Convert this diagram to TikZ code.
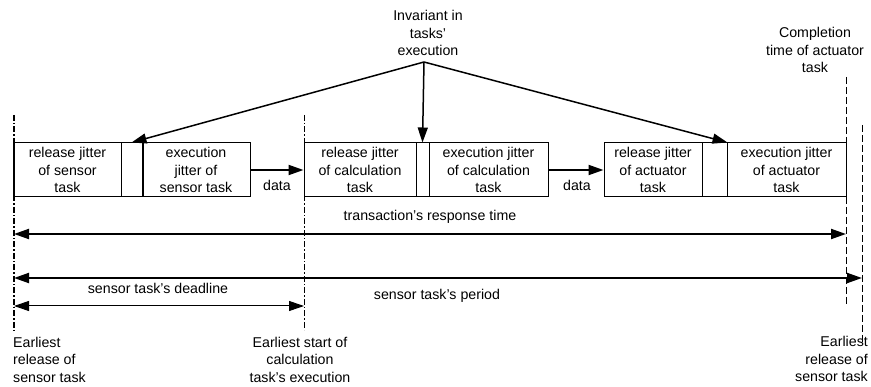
\documentclass[tikz,border=0pt]{standalone}
\usepackage{fontspec}
\setmainfont{Liberation Sans}
\usetikzlibrary{arrows.meta}

\begin{document}
\begin{tikzpicture}[x=1pt,y=-1pt,
  every node/.style={font=\fontsize{14.2}{17.5}\selectfont},
  cell/.style={draw,line width=1pt,inner sep=0pt,minimum height=54pt,align=center},
  lbl/.style={inner sep=0pt,align=center},
  tip/.style={-{Triangle[length=15pt,width=10pt]}},
  tips/.style={{Triangle[length=15pt,width=10pt]}-{Triangle[length=15pt,width=10pt]}},
  thinline/.style={line width=0.8pt},
  bold/.style={line width=2pt},
  dashdot/.style={dash pattern=on 6pt off 2pt on 1.5pt off 2pt},
  dashline/.style={dash pattern=on 7pt off 3pt,line width=0.8pt}]
\useasboundingbox (0,0) rectangle (871,387);

% sensor task
\node[cell,minimum width=107pt] (s1) at (67.5,170) {release jitter\\of sensor\\task};
\node[cell,minimum width=21pt]  (s2) at (131.5,170) {};
\node[cell,minimum width=108pt] (s3) at (196,170) {execution\\jitter of\\sensor task};
\draw[bold] (s2.north east) -- (s2.south east);
\draw[bold] (s1.north west) -- (s1.south west);

% calculation task
\node[cell,minimum width=112pt] (c1) at (360,170) {release jitter\\of calculation\\task};
\node[cell,minimum width=13pt]  (c2) at (422.5,170) {};
\node[cell,minimum width=119pt] (c3) at (488.5,170) {execution jitter\\of calculation\\task};

% actuator task
\node[cell,minimum width=98pt]  (a1) at (653,170) {release jitter\\of actuator\\task};
\node[cell,minimum width=25pt]  (a2) at (714.5,170) {};
\node[cell,minimum width=119pt] (a3) at (786.5,170) {execution jitter\\of actuator\\task};

% data flow between tasks
\draw[bold,tip] (s3.east) -- (c1.west);
\draw[bold,tip] (c3.east) -- (a1.west);
\node[lbl] (d1) at (277,185) {data};
\node[lbl] (d2) at (577,185) {data};

% invariant part of the executions
\node[lbl] (inv) at (428,33) {Invariant in\\tasks'\\execution};
\coordinate (apex) at (424,62);
\draw[line width=1.5pt,tip] (apex) -- (s2.north);
\draw[line width=1.5pt,tip] (apex) -- (c2.north);
\draw[line width=1.5pt,tip] (apex) -- (a2.north east);

% time markers
\coordinate (Lt) at (14,115);   \coordinate (Lb) at (14,333);
\coordinate (Ct) at (304,115);  \coordinate (Cb) at (304,330);
\coordinate (R1t) at (846,77);  \coordinate (R1b) at (846,305);
\coordinate (R2t) at (862,125); \coordinate (R2b) at (862,342);
\draw[bold,dashdot] (Lt) -- (Lb);
\draw[thinline,dashdot] (Ct) -- (Cb);
\draw[dashline] (R1t) -- (R1b);
\draw[dashline] (R2t) -- (R2b);

% intervals
\coordinate (tr0) at (14,234);  \coordinate (tr1) at (846,234);
\coordinate (pe0) at (14,278);  \coordinate (pe1) at (862,278);
\coordinate (dl0) at (14,306);  \coordinate (dl1) at (304,306);
\draw[bold,tips] (tr0) -- (tr1);
\draw[bold,tips] (pe0) -- (pe1);
\draw[line width=1pt,tips] (dl0) -- (dl1);
\node[lbl] (trl) at (430,217) {transaction's response time};
\node[lbl] (pel) at (437,296) {sensor task's period};
\node[lbl] (dll) at (158,288) {sensor task's deadline};

% event labels
\node[lbl] (comp) at (815,50) {Completion\\time of actuator\\task};
\node[lbl,align=left,anchor=west] (er0) at (13,359.5) {Earliest\\release of\\sensor task};
\node[lbl] (es) at (300,359.5) {Earliest start of\\calculation\\task's execution};
\node[lbl,align=right,anchor=east] (er1) at (868,359) {Earliest\\release of\\sensor task};
\end{tikzpicture}
\end{document}
